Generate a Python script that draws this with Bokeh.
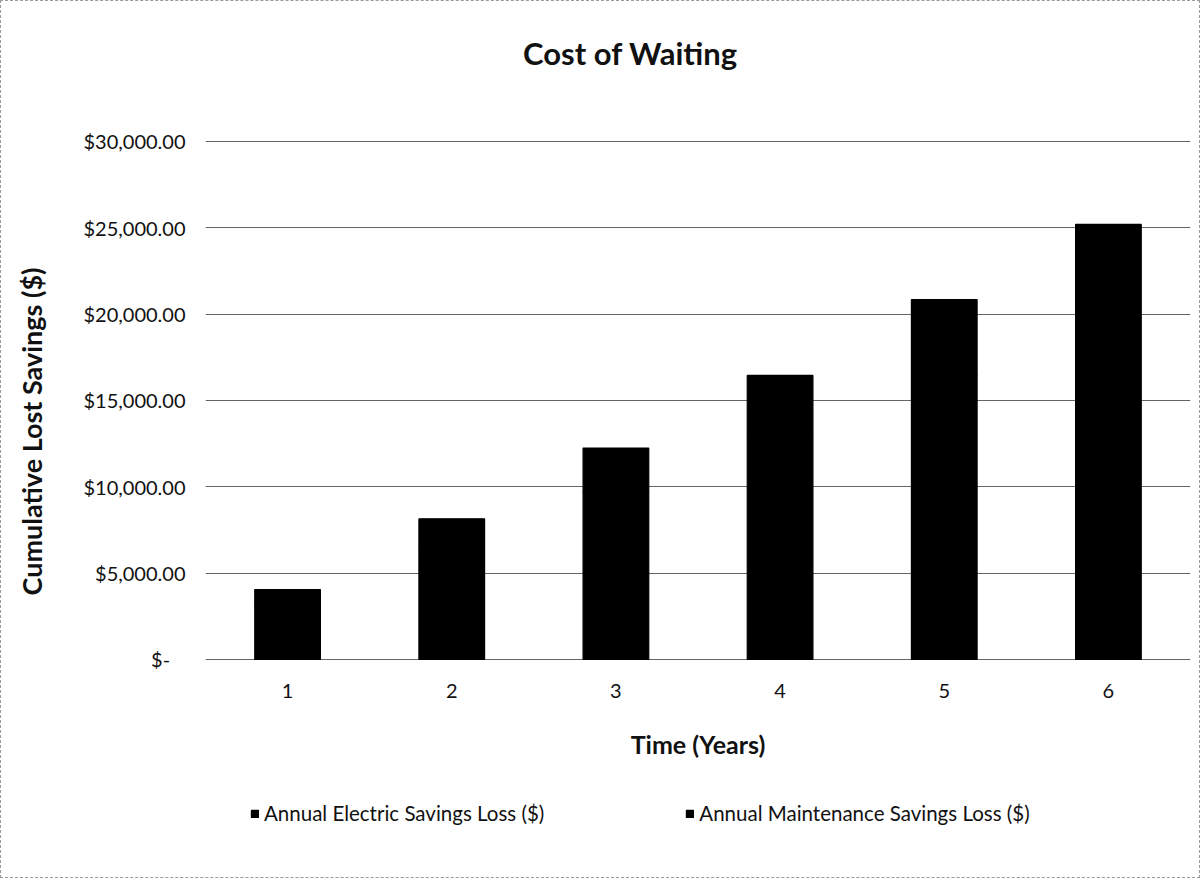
from bokeh.plotting import figure
from bokeh.models import (FactorRange, Range1d, FixedTicker, CustomJSTickFormatter,
                          Legend, LegendItem, Label)
from bokeh.embed import file_html
from bokeh.resources import INLINE

years = ["1", "2", "3", "4", "5", "6"]
electric = [3250, 6500, 9750, 13050, 16450, 19800]
maintenance = [800, 1650, 2500, 3400, 4400, 5400]
y_ticks = [0, 5000, 10000, 15000, 20000, 25000, 30000]
series_names = ["Annual Electric Savings Loss ($)", "Annual Maintenance Savings Loss ($)"]
title_text = "Cost of Waiting"

FONT = "Lato"

# frame spans nearly the whole card; value 0 sits at the plot baseline,
# the area below it holds the category labels, axis title and legend
p = figure(width=1200, height=878, x_range=FactorRange(*years),
           y_range=Range1d(-11062, 37471),
           output_backend="svg", toolbar_location=None,
           min_border_left=204, min_border_right=11, min_border_top=11, min_border_bottom=29)
p.outline_line_color = None
p.background_fill_color = "white"
p.border_fill_color = "white"
p.styles = {"border": "1px dashed #9a9a9a"}

src = dict(x=years, electric=electric, maintenance=maintenance)
rs = p.vbar_stack(["electric", "maintenance"], x="x", width=0.4, source=src,
                  color=["#000000", "#000000"], line_color="#000000", line_width=1.2)

p.add_layout(Label(x=425, y=798, x_units="screen", y_units="screen", text=title_text,
                   text_align="center", text_baseline="middle", text_font=FONT,
                   text_font_size="31px", text_font_style="bold", text_color="#111111"))

# y axis
p.yaxis.ticker = FixedTicker(ticks=y_ticks)
p.yaxis.formatter = CustomJSTickFormatter(code="""
if (tick == 0) { return "$-\u00a0\u00a0\u00a0"; }
return "$" + tick.toLocaleString('en-US', {minimumFractionDigits: 2, maximumFractionDigits: 2});
""")
p.yaxis.axis_line_color = None
p.yaxis.major_tick_line_color = None
p.yaxis.minor_tick_line_color = None
p.yaxis.major_label_standoff = 14
p.yaxis.major_label_text_font = FONT
p.yaxis.major_label_text_font_size = "20px"
p.yaxis.major_label_text_color = "#111111"
p.yaxis.axis_label = "Cumulative Lost Savings ($)"
p.yaxis.axis_label_text_font = FONT
p.yaxis.axis_label_text_font_size = "27px"
p.yaxis.axis_label_text_font_style = "bold"
p.yaxis.axis_label_text_color = "#111111"
p.yaxis.axis_label_standoff = 32

# x axis, drawn at value 0
p.xaxis.fixed_location = 0
p.xaxis.axis_line_color = None
p.xaxis.major_tick_line_color = None
p.xaxis.minor_tick_line_color = None
p.xaxis.major_label_standoff = 19
p.xaxis.major_label_text_font = FONT
p.xaxis.major_label_text_font_size = "20px"
p.xaxis.major_label_text_color = "#111111"
p.xaxis.axis_label = "Time (Years)"
p.xaxis.axis_label_text_font = FONT
p.xaxis.axis_label_text_font_size = "25px"
p.xaxis.axis_label_text_font_style = "bold"
p.xaxis.axis_label_text_color = "#111111"
p.xaxis.axis_label_standoff = 27

p.xgrid.grid_line_color = None
p.ygrid.grid_line_color = "#666666"
p.ygrid.grid_line_width = 1

legend = Legend(items=[LegendItem(label=series_names[0], renderers=[rs[0]]),
                       LegendItem(label=series_names[1], renderers=[rs[1]])],
                orientation="horizontal", location=(45, 25),
                glyph_width=9, glyph_height=9, label_standoff=5, spacing=141,
                label_text_font=FONT, label_text_font_size="20.5px", label_text_color="#111111",
                border_line_color=None, background_fill_alpha=0, padding=0, margin=0)
p.add_layout(legend, "center")

open("out.html", "w").write(file_html(p, INLINE))
